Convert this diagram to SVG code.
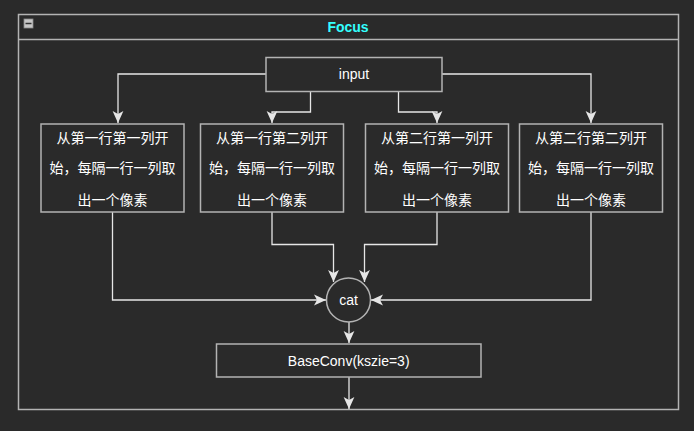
<svg xmlns="http://www.w3.org/2000/svg" width="694" height="431" viewBox="0 0 694 431">
<style>
.box{fill:#2a2a2a;stroke:#b3b3b3;stroke-width:1.5}
.edge{fill:none;stroke:#e6e6e6;stroke-width:1.3}
.lbl{font-family:"Liberation Sans",Arial,sans-serif;font-size:14px;fill:#ffffff;text-anchor:middle;dominant-baseline:central}
.cjk{font-family:"Noto Sans CJK SC","Liberation Sans",sans-serif;font-size:14px;fill:#ffffff;text-anchor:middle;dominant-baseline:central}
</style>
<defs>
<marker id="arr" markerUnits="userSpaceOnUse" markerWidth="12" markerHeight="12" viewBox="0 0 10 10" refX="10" refY="5" orient="auto">
<path d="M0,0.5 L10,5 L0,9.5 L2.5,5 z" fill="#e6e6e6"/>
</marker>
</defs>
<rect width="694" height="431" fill="#2a2a2a"/>
<g id="frame">
<rect x="18.5" y="14.5" width="660" height="395" fill="none" stroke="#b3b3b3" stroke-width="1.5"/>
<line x1="18.5" y1="39.5" x2="678.5" y2="39.5" stroke="#b3b3b3" stroke-width="1.5"/>
<rect x="24" y="19" width="9" height="9" fill="#c8c8c8" stroke="#8a8a8a" stroke-width="0.8"/>
<line x1="25.5" y1="23.5" x2="31.5" y2="23.5" stroke="#333" stroke-width="1.5"/>
<text x="348" y="27" font-family="'Liberation Sans',Arial,sans-serif" font-size="14" font-weight="bold" fill="#33ffff" text-anchor="middle" dominant-baseline="central">Focus</text>
</g>
<g id="connectors">
<path class="edge" d="M266,74 H118 V123" marker-end="url(#arr)"/>
<path class="edge" d="M310.5,91 V112 H272 V123" marker-end="url(#arr)"/>
<path class="edge" d="M398.5,91 V112 H437 V123" marker-end="url(#arr)"/>
<path class="edge" d="M442,74 H591 V123" marker-end="url(#arr)"/>
<path class="edge" d="M112.5,212 V300 H326" marker-end="url(#arr)"/>
<path class="edge" d="M272,212 V244.5 H333.5 V282" marker-end="url(#arr)"/>
<path class="edge" d="M437,212 V244.5 H364.5 V282" marker-end="url(#arr)"/>
<path class="edge" d="M591,212 V300 H371" marker-end="url(#arr)"/>
<path class="edge" d="M349,322 V343" marker-end="url(#arr)"/>
<path class="edge" d="M349,377 V409" marker-end="url(#arr)"/>
</g>
<g id="input">
<rect class="box" x="266" y="57.5" width="176" height="34"/>
<text class="lbl" x="354" y="74">input</text>
</g>
<g id="slice1">
<rect class="box" x="41" y="124" width="143" height="88"/>
<text class="cjk" x="112.5" y="137">从第一行第一列开</text>
<text class="cjk" x="112.5" y="167">始，每隔一行一列取</text>
<text class="cjk" x="112.5" y="199">出一个像素</text>
</g>
<g id="slice2">
<rect class="box" x="200.5" y="124" width="143" height="88"/>
<text class="cjk" x="272" y="137">从第一行第二列开</text>
<text class="cjk" x="272" y="167">始，每隔一行一列取</text>
<text class="cjk" x="272" y="199">出一个像素</text>
</g>
<g id="slice3">
<rect class="box" x="365.5" y="124" width="143" height="88"/>
<text class="cjk" x="437" y="137">从第二行第一列开</text>
<text class="cjk" x="437" y="167">始，每隔一行一列取</text>
<text class="cjk" x="437" y="199">出一个像素</text>
</g>
<g id="slice4">
<rect class="box" x="519.5" y="124" width="143" height="88"/>
<text class="cjk" x="591" y="137">从第二行第二列开</text>
<text class="cjk" x="591" y="167">始，每隔一行一列取</text>
<text class="cjk" x="591" y="199">出一个像素</text>
</g>
<g id="cat">
<circle class="box" cx="348.5" cy="300" r="22"/>
<text class="lbl" x="348.5" y="300">cat</text>
</g>
<g id="baseconv">
<rect class="box" x="216.5" y="344" width="264.5" height="33"/>
<text class="lbl" x="348.7" y="360.5">BaseConv(kszie=3)</text>
</g>
</svg>
